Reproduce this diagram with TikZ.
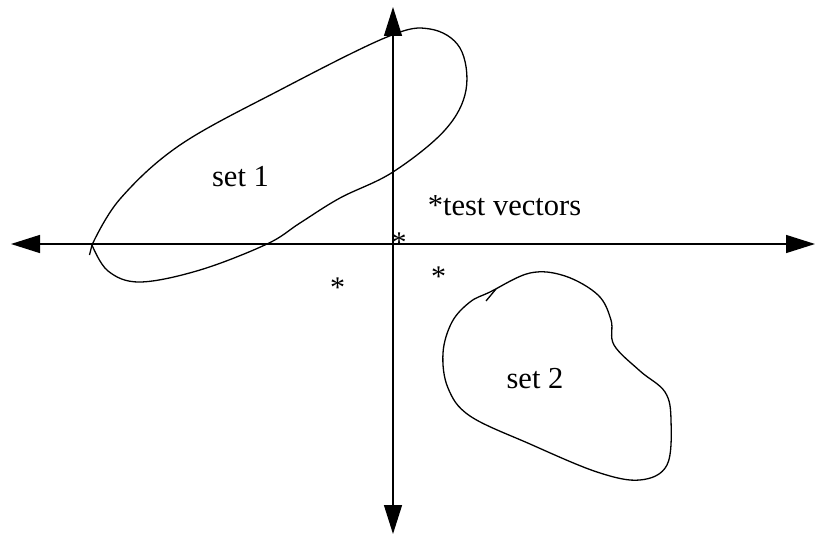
\documentclass[tikz,border=0pt]{standalone}
\usepackage{fontspec}
\setmainfont{Liberation Serif}
\usetikzlibrary{arrows.meta}
\begin{document}
\begin{tikzpicture}[x=1pt,y=-1pt,
  axis/.style={line width=1.4pt,{Triangle[length=29pt,width=18pt]}-{Triangle[length=29pt,width=18pt]}},
  blob/.style={line width=1.3pt},
  lbl/.style={anchor=base,inner sep=0pt,font=\fontsize{30.5}{36}\selectfont},
  star/.style={anchor=base,inner sep=0pt,font=\fontsize{30}{36}\selectfont}]
\useasboundingbox (0,0) rectangle (817,535);
% axes
\coordinate (xl) at (11,244);
\coordinate (xr) at (815,244);
\coordinate (yt) at (393,7);
\coordinate (yb) at (393,534);
\draw[axis] (xl) -- (xr);
\draw[axis] (yt) -- (yb);
% set 1
\draw[blob] plot[smooth, tension=0.6] coordinates {
 (92,245) (120,199) (180,145) (280,90) (387,37)
 (430,29) (460,48) (466,90) (445,130) (393,172)
 (340,198) (300,223) (267,244) (200,270) (140,282) (108,271) (92,245)};
\draw[blob] (92,245) -- (89.5,255);
% set 2
\draw[blob] plot[smooth cycle, tension=0.6] coordinates {
 (490,292) (530,273) (565,276) (598,295) (611,320) (614,345)
 (640,371) (665,392) (671,420) (667,465) (640,480) (597,472)
 (530,444) (470,416) (448,388) (443,353) (452,322) (470,302)};
\draw[blob] (486,301) -- (496,289);
% labels
\node[lbl] (s1) at (240.5,186) {set 1};
\node[lbl] (s2) at (535,388) {set 2};
\node[lbl] (tv) at (504.5,215) {*test vectors};
\node[star] (a1) at (399,252) {*};
\node[star] (a2) at (337.5,297) {*};
\node[star] (a3) at (438.5,286) {*};
\end{tikzpicture}
\end{document}
